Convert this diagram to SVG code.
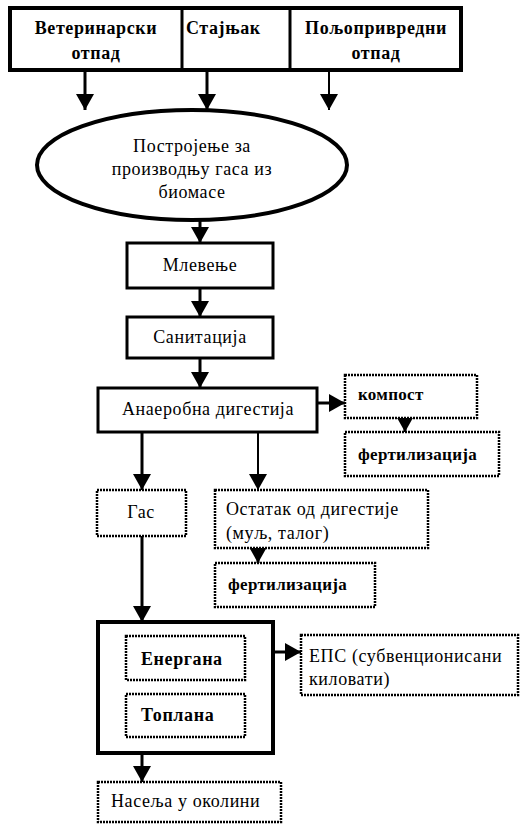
<svg xmlns="http://www.w3.org/2000/svg" width="520" height="824" viewBox="0 0 520 824">
<style>
text{font-family:"Liberation Serif","DejaVu Serif","Times New Roman",serif;font-size:18px;letter-spacing:0.6px;fill:#000}
.b{font-weight:bold}
.s{font-size:17px;letter-spacing:0.3px}
.m{text-anchor:middle}
.solid{fill:#fff;stroke:#000;stroke-width:3}
.thick{fill:#fff;stroke:#000;stroke-width:4}
.dot{fill:#fff;stroke:#000;stroke-width:2.5;stroke-dasharray:2 1}
.c{stroke:#000;stroke-width:3;fill:none}
</style>
<defs>
<marker id="ah" markerUnits="userSpaceOnUse" markerWidth="18" markerHeight="18" viewBox="0 0 16 18" refX="16" refY="9" orient="auto">
<path d="M0,0 L16,9 L0,18 Z" fill="#000"/>
</marker>
</defs>
<g id="connectors">
<line class="c" x1="85" y1="70" x2="85" y2="110" marker-end="url(#ah)"/>
<line class="c" x1="207" y1="70" x2="207" y2="110" marker-end="url(#ah)"/>
<line class="c" style="stroke-width:2" x1="329" y1="70" x2="329" y2="110" marker-end="url(#ah)"/>
<line class="c" x1="200" y1="220" x2="200" y2="243" marker-end="url(#ah)"/>
<line class="c" x1="200" y1="288" x2="200" y2="317" marker-end="url(#ah)"/>
<line class="c" x1="200" y1="358" x2="200" y2="388" marker-end="url(#ah)"/>
<line class="c" x1="317" y1="403" x2="345" y2="403" marker-end="url(#ah)"/>
<line class="c" x1="405" y1="418" x2="405" y2="432" marker-end="url(#ah)"/>
<line class="c" x1="142" y1="432" x2="142" y2="490" marker-end="url(#ah)"/>
<line class="c" style="stroke-width:2" x1="258" y1="432" x2="258" y2="490" marker-end="url(#ah)"/>
<line class="c" x1="258" y1="548" x2="258" y2="563" marker-end="url(#ah)"/>
<line class="c" x1="142" y1="536" x2="142" y2="622" marker-end="url(#ah)"/>
<line class="c" x1="245" y1="652" x2="301" y2="652" marker-end="url(#ah)"/>
<line class="c" x1="142" y1="737" x2="142" y2="782" marker-end="url(#ah)"/>
</g>
<g id="sources">
<rect class="thick" x="10" y="8" width="451" height="62"/>
<line stroke="#000" stroke-width="3" x1="182" y1="8" x2="182" y2="70"/>
<line stroke="#000" stroke-width="3" x1="290" y1="8" x2="290" y2="70"/>
<text class="b m" x="96" y="34">Ветеринарски</text>
<text class="b m" x="96" y="59">отпад</text>
<text class="b" x="186" y="34">Стајњак</text>
<text class="b m" x="376" y="34">Пољопривредни</text>
<text class="b m" x="376" y="59">отпад</text>
</g>
<g id="plant">
<ellipse class="thick" cx="192" cy="165" rx="155" ry="55"/>
<text class="m" x="192" y="152">Постројење за</text>
<text class="m" x="192" y="175">производњу гаса из</text>
<text class="m" x="192" y="198">биомасе</text>
</g>
<g id="mlevenje">
<rect class="solid" x="127" y="243" width="146" height="45"/>
<text class="m" x="200" y="271">Млевење</text>
</g>
<g id="sanitacija">
<rect class="solid" x="127" y="317" width="146" height="41"/>
<text class="m" x="200" y="343">Санитација</text>
</g>
<g id="anaerobna">
<rect class="solid" x="98" y="388" width="219" height="44"/>
<text class="m" x="208" y="415">Анаеробна дигестија</text>
</g>
<g id="kompost">
<rect class="dot" x="345" y="375" width="132" height="43"/>
<text class="b s" x="358" y="400">компост</text>
</g>
<g id="fert1">
<rect class="dot" x="345" y="432" width="154" height="44"/>
<text class="b s" x="358" y="460">фертилизација</text>
</g>
<g id="gas">
<rect class="dot" x="97" y="490" width="89" height="46"/>
<text class="m" x="141" y="518">Гас</text>
</g>
<g id="ostatak">
<rect class="dot" x="215" y="490" width="213" height="58"/>
<text x="226" y="515">Остатак од дигестије</text>
<text x="226" y="539">(муљ, талог)</text>
</g>
<g id="fert2">
<rect class="dot" x="215" y="563" width="160" height="44"/>
<text class="b s" x="228" y="590">фертилизација</text>
</g>
<g id="energy">
<rect class="thick" x="98" y="622" width="175" height="131"/>
</g>
<g id="energana">
<rect class="dot" x="126" y="636" width="119" height="44"/>
<text class="b" x="141" y="665">Енергана</text>
</g>
<g id="toplana">
<rect class="dot" x="126" y="694" width="119" height="43"/>
<text class="b" x="141" y="721">Топлана</text>
</g>
<g id="eps">
<rect class="dot" x="301" y="635" width="217" height="60"/>
<text x="309" y="662">ЕПС (субвенционисани</text>
<text x="309" y="685">киловати)</text>
</g>
<g id="naselja">
<rect class="dot" x="98" y="782" width="183" height="40"/>
<text x="111" y="807">Насеља у околини</text>
</g>
</svg>
